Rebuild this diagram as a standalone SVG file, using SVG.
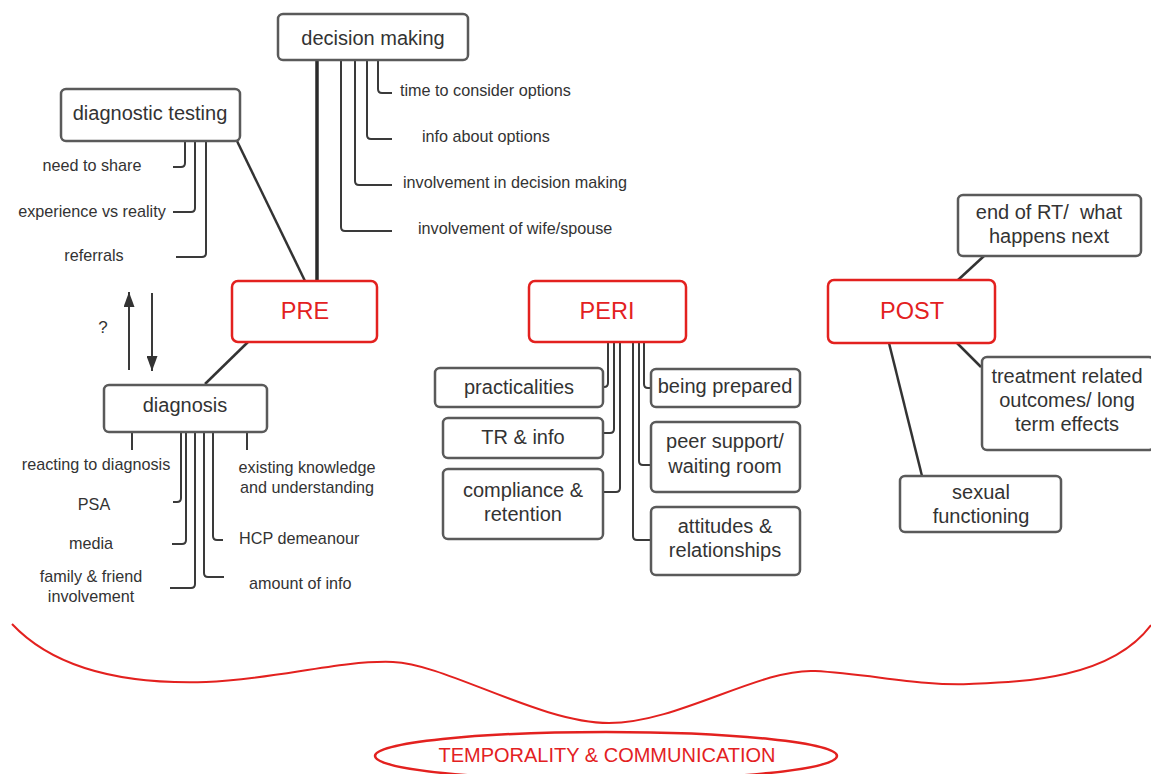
<svg xmlns="http://www.w3.org/2000/svg" width="1151" height="774" viewBox="0 0 1151 774">
<style>
.box{fill:#fff;stroke:#5a5a5a;stroke-width:2.5}
.red{fill:#fff;stroke:#e3211f;stroke-width:2.5}
.t{font-family:"Liberation Sans",Arial,sans-serif;font-size:20px;fill:#333;text-anchor:middle}
.s{font-family:"Liberation Sans",Arial,sans-serif;font-size:16.2px;fill:#333}
.rt{font-family:"Liberation Sans",Arial,sans-serif;font-size:23.5px;fill:#e3211f;text-anchor:middle}
.c{fill:none;stroke:#3a3a3a;stroke-width:2}
.c3{fill:none;stroke:#333;stroke-width:2.5}
</style>
<defs>
<marker id="ah" markerWidth="15" markerHeight="11" refX="14" refY="5" orient="auto" markerUnits="userSpaceOnUse" viewBox="0 0 14 10" preserveAspectRatio="none">
<path d="M0,0 L14,5 L0,10 Z" fill="#333"/>
</marker>
</defs>
<rect width="1151" height="774" fill="#fff"/>

<g id="connectors">
<!-- decision making -->
<path class="c" d="M317,60 V281" style="stroke-width:3.5;stroke:#2a2a2a"/>
<path class="c" d="M378,60 V89 Q378,93 382,93 H392"/>
<path class="c" d="M367,60 V135 Q367,139 371,139 H392"/>
<path class="c" d="M355,60 V181 Q355,185 359,185 H392"/>
<path class="c" d="M341,60 V227 Q341,231 345,231 H392"/>
<!-- diagnostic testing -->
<path class="c" d="M185,141 V163 Q185,167 181,167 H173"/>
<path class="c" d="M195,141 V208 Q195,212 191,212 H173"/>
<path class="c" d="M206,141 V253 Q206,257 202,257 H176"/>
<path class="c3" d="M237,141 L305,281"/>
<!-- PRE to diagnosis -->
<path class="c3" d="M248,342 L205,384"/>
<!-- arrows -->
<path class="c" d="M129,370 V292" marker-end="url(#ah)"/>
<path class="c" d="M152,293 V371" marker-end="url(#ah)"/>
<!-- diagnosis -->
<path class="c" d="M132,432 V450"/>
<path class="c" d="M247,432 V450"/>
<path class="c" d="M181,432 V498 Q181,502 177,502 H173"/>
<path class="c" d="M186,432 V540 Q186,544 182,544 H172"/>
<path class="c" d="M195,432 V584 Q195,588 191,588 H170"/>
<path class="c" d="M204,432 V573 Q204,577 208,577 H224"/>
<path class="c" d="M213,432 V536 Q213,540 217,540 H223"/>
<!-- PERI -->
<path class="c" d="M608,342 V383 Q608,387 604,387 H603"/>
<path class="c" d="M614,342 V429 Q614,433 610,433 H603"/>
<path class="c" d="M620,342 V488 Q620,492 616,492 H603"/>
<path class="c" d="M644,342 V384 Q644,388 648,388 H651"/>
<path class="c" d="M639,342 V461 Q639,465 643,465 H651"/>
<path class="c" d="M633,342 V536 Q633,540 637,540 H651"/>
<!-- POST -->
<path class="c3" d="M958,280 L984,256"/>
<path class="c3" d="M957,343 L981,367"/>
<path class="c3" d="M889,343 L922,476"/>
</g>

<g id="decision-making">
<rect class="box" x="278" y="14" width="190" height="46" rx="5"/>
<text class="t" x="373" y="45">decision making</text>
</g>
<g id="dm-labels">
<text class="s" x="400" y="96">time to consider options</text>
<text class="s" x="422" y="142">info about options</text>
<text class="s" x="403" y="188">involvement in decision making</text>
<text class="s" x="418" y="234">involvement of wife/spouse</text>
</g>

<g id="diagnostic-testing">
<rect class="box" x="61" y="89" width="179" height="52" rx="5"/>
<text class="t" x="150" y="120">diagnostic testing</text>
</g>
<g id="dt-labels">
<text class="s" x="92" y="171" text-anchor="middle">need to share</text>
<text class="s" x="92" y="217" text-anchor="middle">experience vs reality</text>
<text class="s" x="94" y="261" text-anchor="middle">referrals</text>
</g>

<g id="pre">
<rect class="red" x="232" y="281" width="145" height="61" rx="6"/>
<text class="rt" x="305" y="319">PRE</text>
</g>

<g id="question">
<text class="s" x="103" y="333" text-anchor="middle" style="font-size:17px">?</text>
</g>

<g id="diagnosis">
<rect class="box" x="104" y="385" width="163" height="47" rx="5"/>
<text class="t" x="185" y="412">diagnosis</text>
</g>
<g id="diagnosis-labels">
<text class="s" x="96" y="470" text-anchor="middle">reacting to diagnosis</text>
<text class="s" x="94" y="510" text-anchor="middle">PSA</text>
<text class="s" x="91" y="549" text-anchor="middle">media</text>
<text class="s" x="91" y="582" text-anchor="middle">family &amp; friend</text>
<text class="s" x="91" y="602" text-anchor="middle">involvement</text>
<text class="s" x="307" y="473" text-anchor="middle">existing knowledge</text>
<text class="s" x="307" y="493" text-anchor="middle">and understanding</text>
<text class="s" x="239" y="544">HCP demeanour</text>
<text class="s" x="249" y="589">amount of info</text>
</g>

<g id="peri">
<rect class="red" x="529" y="281" width="157" height="61" rx="6"/>
<text class="rt" x="607" y="319">PERI</text>
</g>
<g id="practicalities">
<rect class="box" x="435" y="368" width="168" height="39" rx="5"/>
<text class="t" x="519" y="394">practicalities</text>
</g>
<g id="tr-info">
<rect class="box" x="443" y="418" width="160" height="40" rx="5"/>
<text class="t" x="523" y="444">TR &amp; info</text>
</g>
<g id="compliance">
<rect class="box" x="443" y="469" width="160" height="70" rx="5"/>
<text class="t" x="523" y="497">compliance &amp;</text>
<text class="t" x="523" y="521">retention</text>
</g>
<g id="being-prepared">
<rect class="box" x="651" y="369" width="149" height="38" rx="5"/>
<text class="t" x="725" y="393">being prepared</text>
</g>
<g id="peer-support">
<rect class="box" x="651" y="422" width="149" height="70" rx="5"/>
<text class="t" x="725" y="448">peer support/</text>
<text class="t" x="725" y="473">waiting room</text>
</g>
<g id="attitudes">
<rect class="box" x="651" y="507" width="149" height="68" rx="5"/>
<text class="t" x="725" y="533">attitudes &amp;</text>
<text class="t" x="725" y="557">relationships</text>
</g>

<g id="post">
<rect class="red" x="828" y="280" width="167" height="63" rx="6"/>
<text class="rt" x="912" y="319">POST</text>
</g>
<g id="end-of-rt">
<rect class="box" x="958" y="195" width="183" height="61" rx="5"/>
<text class="t" x="1049" y="219" style="white-space:pre">end of RT/  what</text>
<text class="t" x="1049" y="243">happens next</text>
</g>
<g id="treatment">
<rect class="box" x="982" y="357" width="172" height="93" rx="5"/>
<text class="t" x="1067" y="383">treatment related</text>
<text class="t" x="1067" y="407">outcomes/ long</text>
<text class="t" x="1067" y="431">term effects</text>
</g>
<g id="sexual">
<rect class="box" x="900" y="476" width="161" height="56" rx="5"/>
<text class="t" x="981" y="499">sexual</text>
<text class="t" x="981" y="523">functioning</text>
</g>

<g id="temporality">
<path d="M12,624 C60,675 140,684 206,682 S340,660 393,662 S540,723 609,723 S760,668 815,671 S920,686 969,684 S1110,680 1151,625" fill="none" stroke="#e3211f" stroke-width="2"/>
<ellipse cx="606" cy="756" rx="231" ry="24" fill="#fff" stroke="#e3211f" stroke-width="2.5"/>
<text x="607" y="762" style="font-family:'Liberation Sans',Arial,sans-serif;font-size:20px;fill:#e3211f;text-anchor:middle">TEMPORALITY &amp; COMMUNICATION</text>
</g>
</svg>
